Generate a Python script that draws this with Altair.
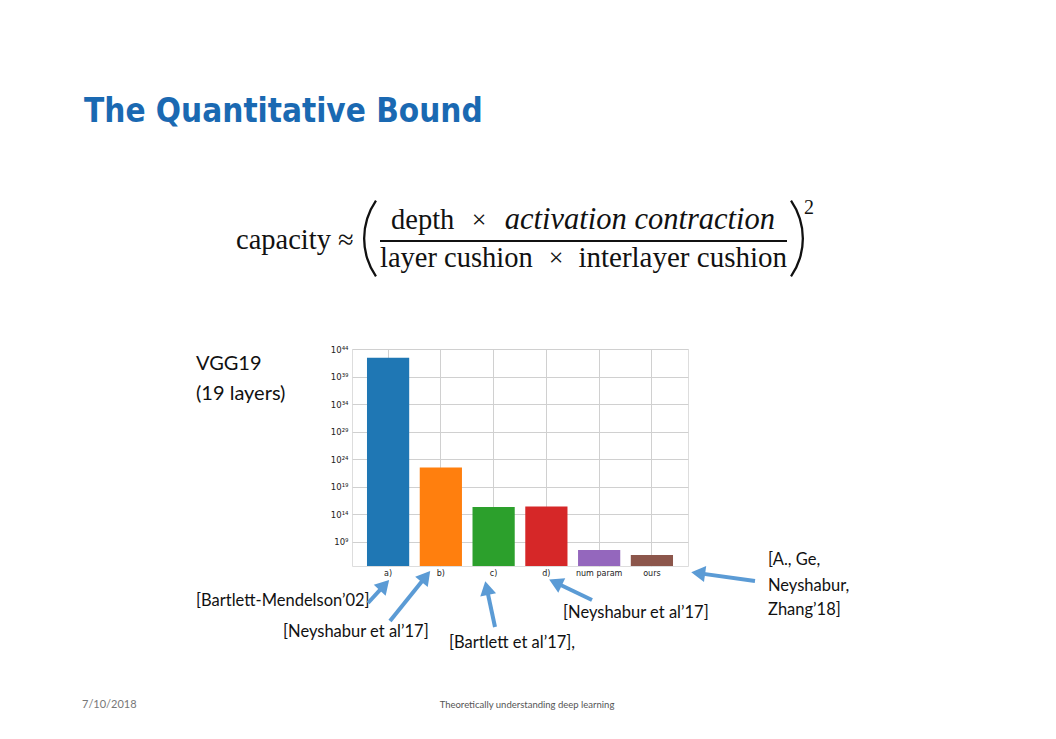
import math
import altair as alt
import pandas as pd

# ---------------- data ----------------
categories = ["a)", "b)", "c)", "d)", "num param", "ours"]
log10_capacity = [42.4, 22.5, 15.3, 15.4, 7.5, 6.6]
bar_colors = ["#1f77b4", "#ff7f0e", "#2ca02c", "#d62728", "#9467bd", "#8c564b"]
tick_exponents = [9, 14, 19, 24, 29, 34, 39, 44]
tick_labels = ["10⁹", "10¹⁴", "10¹⁹", "10²⁴", "10²⁹", "10³⁴", "10³⁹", "10⁴⁴"]
y_domain_log10 = [4.6, 44]

bars_df = pd.DataFrame({
    "method": categories,
    "capacity": [10 ** v for v in log10_capacity],
    "base": [10 ** y_domain_log10[0]] * len(categories),
    "color": bar_colors,
})

# ---------------- layout ----------------
PLOT_W, PLOT_H = 336, 217
PAD_L, PAD_T = 344, 341
PAGE_W, PAGE_H = 1040, 723
OX, OY = 8 + PAD_L, 8 + PAD_T  # page position of plot origin


def px(x):
    return x - OX


def py(y):
    return y - OY


def text_layer(rows, **mark_kw):
    df = pd.DataFrame([{"x": px(r[0]), "y": py(r[1]), "t": r[2]} for r in rows])
    return alt.Chart(df).mark_text(baseline="alphabetic", **mark_kw).encode(
        x=alt.X("x:Q", scale=None, axis=None),
        y=alt.Y("y:Q", scale=None, axis=None),
        text="t:N",
    )


# ---------------- bar chart ----------------
label_expr = "{}[indexof({}, round(log(datum.value) / LN10))]".format(
    "[" + ",".join("'" + s + "'" for s in tick_labels) + "]",
    "[" + ",".join(str(e) for e in tick_exponents) + "]",
)

bars = alt.Chart(bars_df).mark_bar().encode(
    x=alt.X(
        "method:N",
        sort=categories,
        scale=alt.Scale(paddingInner=0.2, paddingOuter=0.284),
        axis=alt.Axis(
            title=None, labelAngle=0, ticks=False, domain=False, grid=True,
            gridColor="#d0d0d0", labelFontSize=8, labelColor="#222222",
            labelFont="DejaVu Sans", labelPadding=3,
        ),
    ),
    y=alt.Y(
        "capacity:Q",
        scale=alt.Scale(type="log", domain=[10 ** d for d in y_domain_log10], nice=False),
        axis=alt.Axis(
            title=None, values=[10 ** e for e in tick_exponents], labelExpr=label_expr,
            ticks=False, domain=False, grid=True, gridColor="#d0d0d0",
            labelFontSize=8.5, labelColor="#222222", labelFont="DejaVu Sans",
            labelPadding=4,
        ),
    ),
    y2="base:Q",
    color=alt.Color("color:N", scale=None, legend=None),
)

# ---------------- slide texts ----------------
title = text_layer([(84, 122, "The Quantitative Bound")],
                   font="DejaVu Sans Condensed, DejaVu Sans", fontSize=33,
                   fontWeight="bold", color="#1a69b2", align="left")

serif = "Liberation Serif"
formula_plain = text_layer([
    (236, 249, "capacity ≈"),
    (391, 229, "depth"),
    (380, 267, "layer cushion"),
], font=serif, fontSize=28.5, color="#111111", align="left")
formula_right = text_layer([
    (787, 267, "interlayer cushion"),
], font=serif, fontSize=29, color="#111111", align="right")
formula_italic = text_layer([
    (775, 229, "activation contraction"),
], font=serif, fontSize=30.5, fontStyle="italic", color="#111111", align="right")
formula_times = text_layer([
    (479, 228, "×"),
    (556, 266, "×"),
], font=serif, fontSize=26, color="#111111", align="center")
square = text_layer([(809, 214, "2")], font=serif, fontSize=20, color="#111111", align="center")

frac_df = pd.DataFrame({"x": [px(380)], "x2": [px(787)], "y": [py(241)]})
frac_line = alt.Chart(frac_df).mark_rule(color="#111111", strokeWidth=1.8).encode(
    x=alt.X("x:Q", scale=None), x2="x2:Q", y=alt.Y("y:Q", scale=None)
)

# big parentheses drawn as thin arcs of a circle
R = 68
paren_rows = [
    {"x": px(363 + R), "y": py(238.5), "t0": math.radians(235.4), "t1": math.radians(304.6)},
    {"x": px(804 - R), "y": py(238.5), "t0": math.radians(55.4), "t1": math.radians(124.6)},
]
parens = alt.Chart(pd.DataFrame(paren_rows)).mark_arc(
    radius=R, radius2=R - 2.3, color="#111111"
).encode(
    x=alt.X("x:Q", scale=None), y=alt.Y("y:Q", scale=None),
    theta=alt.Theta("t0:Q", scale=None), theta2="t1:Q",
)

sans = "Lato"
vgg = text_layer([(196, 370, "VGG19"), (196, 400, "(19 layers)")],
                 font=sans, fontSize=20, color="#111111", align="left")

refs = text_layer([
    (196, 606, "[Bartlett-Mendelson’02]"),
    (283, 637, "[Neyshabur et al’17]"),
    (449, 648, "[Bartlett et al’17],"),
    (563, 618, "[Neyshabur et al’17]"),
    (768, 565, "[A., Ge,"),
    (768, 591, "Neyshabur,"),
    (768, 615, "Zhang’18]"),
], font=sans, fontSize=16.5, color="#111111", align="left")

footer_left = text_layer([(82, 708, "7/10/2018")], font=sans, fontSize=11,
                         color="#777777", align="left")
footer_mid = text_layer([(527, 708, "Theoretically understanding deep learning")],
                        font=sans, fontSize=9.5, color="#555555", align="center")

# ---------------- arrows ----------------
arrows = [
    ((368, 603), (390, 579)),
    ((390, 621), (431, 570)),
    ((495, 627), (485, 580)),
    ((592, 600), (548, 579)),
    ((755, 581), (690, 572)),
]
HEAD = 15
line_rows, head_rows = [], []
for (tx, ty), (hx, hy) in arrows:
    dx, dy = hx - tx, hy - ty
    L = math.hypot(dx, dy)
    ux, uy = dx / L, dy / L
    cx, cy = hx - ux * HEAD * 0.55, hy - uy * HEAD * 0.55
    line_rows.append({"x": px(tx), "y": py(ty), "x2": px(cx), "y2": py(cy)})
    head_rows.append({"x": px(cx), "y": py(cy),
                      "angle": (math.degrees(math.atan2(dx, -dy)) + 360) % 360})

arrow_color = "#5b9bd5"
arrow_lines = alt.Chart(pd.DataFrame(line_rows)).mark_rule(
    color=arrow_color, strokeWidth=4
).encode(
    x=alt.X("x:Q", scale=None), x2="x2:Q",
    y=alt.Y("y:Q", scale=None), y2="y2:Q",
)
arrow_heads = alt.Chart(pd.DataFrame(head_rows)).mark_point(
    shape="triangle-up", filled=True, size=260, color=arrow_color, opacity=1
).encode(
    x=alt.X("x:Q", scale=None), y=alt.Y("y:Q", scale=None),
    angle=alt.Angle("angle:Q", scale=None),
)

chart = alt.layer(
    bars, title, formula_plain, formula_right, formula_italic, formula_times,
    parens, square, frac_line, vgg, refs, footer_left, footer_mid,
    arrow_lines, arrow_heads,
).resolve_scale(x="independent", y="independent").properties(
    width=PLOT_W, height=PLOT_H,
    autosize=alt.AutoSizeParams(type="none"),
    padding={"left": PAD_L, "top": PAD_T,
             "right": PAGE_W - PAD_L - PLOT_W, "bottom": PAGE_H - PAD_T - PLOT_H},
).configure_view(stroke="#cccccc", strokeWidth=1).configure(background="white")

chart.save("out.html", embed_options={"renderer": "svg", "actions": False})
